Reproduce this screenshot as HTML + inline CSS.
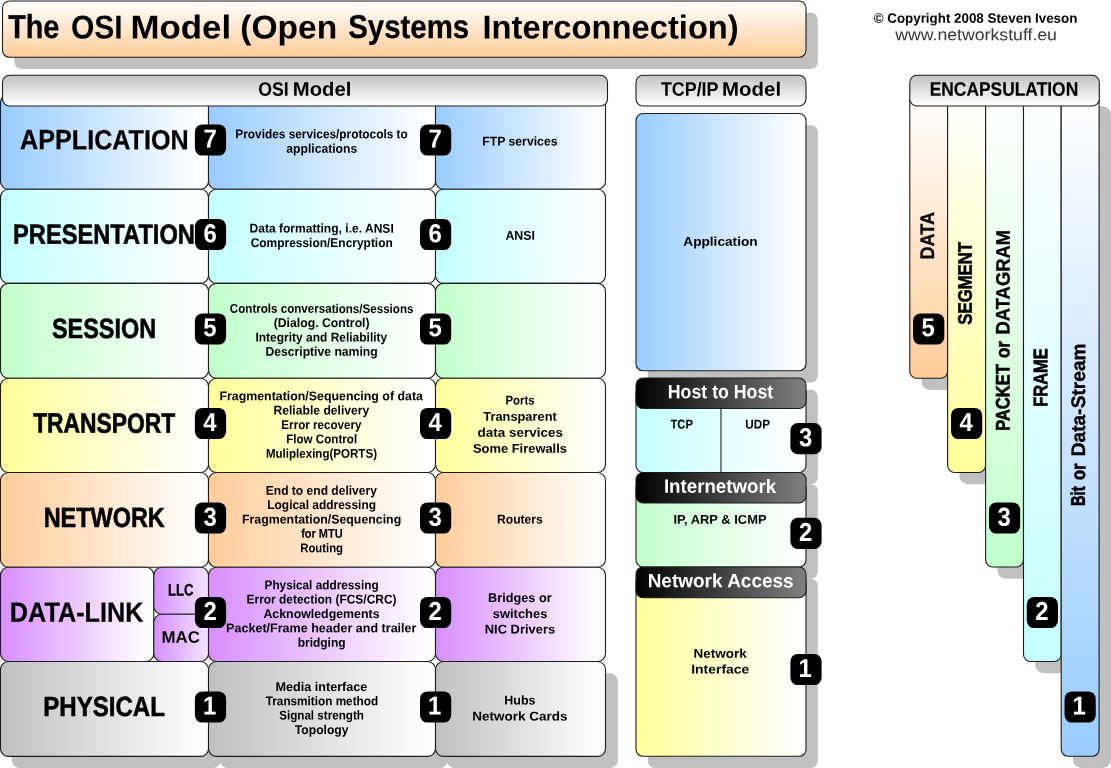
<!DOCTYPE html>
<html lang="en"><head><meta charset="utf-8"><title>The OSI Model (Open Systems Interconnection)</title>
<style>
html,body{margin:0;padding:0;background:#fff}
body{width:1111px;height:768px;overflow:hidden;position:relative;font-family:"Liberation Sans",Arial,sans-serif}
#page{position:absolute;left:0;top:0;width:1111px;height:768px;overflow:hidden;background:#fff;will-change:transform}
.t{position:absolute;left:0;top:0;white-space:pre;transform-origin:0 0;font-weight:700;color:#000;display:block}
</style></head><body><div id="page">
<svg width="1111" height="768" viewBox="0 0 1111 768" style="position:absolute;left:0;top:0">
<defs>
<linearGradient id="g0" x1="0" y1="0" x2="0" y2="1"><stop offset="0%" stop-color="#ffffff"/><stop offset="100%" stop-color="#ffcc99"/></linearGradient>
<linearGradient id="g1" x1="0" y1="0" x2="1" y2="0"><stop offset="0%" stop-color="#99ccff"/><stop offset="97%" stop-color="#ffffff"/></linearGradient>
<linearGradient id="g2" x1="0" y1="0" x2="1" y2="0"><stop offset="0%" stop-color="#c4ffff"/><stop offset="97%" stop-color="#ffffff"/></linearGradient>
<linearGradient id="g3" x1="0" y1="0" x2="1" y2="0"><stop offset="0%" stop-color="#c2ffcc"/><stop offset="97%" stop-color="#ffffff"/></linearGradient>
<linearGradient id="g4" x1="0" y1="0" x2="1" y2="0"><stop offset="0%" stop-color="#ffff99"/><stop offset="97%" stop-color="#ffffff"/></linearGradient>
<linearGradient id="g5" x1="0" y1="0" x2="1" y2="0"><stop offset="0%" stop-color="#ffcc99"/><stop offset="97%" stop-color="#ffffff"/></linearGradient>
<linearGradient id="g6" x1="0" y1="0" x2="1" y2="0"><stop offset="0%" stop-color="#d88eff"/><stop offset="97%" stop-color="#ffffff"/></linearGradient>
<linearGradient id="g7" x1="0" y1="0" x2="1" y2="0"><stop offset="0%" stop-color="#d88eff"/><stop offset="100%" stop-color="#f3e4ff"/></linearGradient>
<linearGradient id="g8" x1="0" y1="0" x2="1" y2="0"><stop offset="0%" stop-color="#c0c0c0"/><stop offset="97%" stop-color="#ffffff"/></linearGradient>
<linearGradient id="g9" x1="0" y1="0" x2="0" y2="1"><stop offset="0%" stop-color="#c2c2c2"/><stop offset="96%" stop-color="#ffffff"/></linearGradient>
<linearGradient id="g10" x1="0" y1="0" x2="1" y2="0"><stop offset="0%" stop-color="#000000"/><stop offset="100%" stop-color="#808080"/></linearGradient>
<linearGradient id="g11" x1="0" y1="0" x2="0" y2="1"><stop offset="0%" stop-color="#ffffff"/><stop offset="100%" stop-color="#ffcc99"/></linearGradient>
<linearGradient id="g12" x1="0" y1="0" x2="0" y2="1"><stop offset="0%" stop-color="#ffffff"/><stop offset="100%" stop-color="#ffff99"/></linearGradient>
<linearGradient id="g13" x1="0" y1="0" x2="0" y2="1"><stop offset="0%" stop-color="#ffffff"/><stop offset="100%" stop-color="#c2ffcc"/></linearGradient>
<linearGradient id="g14" x1="0" y1="0" x2="0" y2="1"><stop offset="0%" stop-color="#ffffff"/><stop offset="100%" stop-color="#c4ffff"/></linearGradient>
<linearGradient id="g15" x1="0" y1="0" x2="0" y2="1"><stop offset="0%" stop-color="#ffffff"/><stop offset="100%" stop-color="#99ccff"/></linearGradient>
</defs>
<rect x="14.3" y="12.7" width="803.5" height="56.3" rx="7" fill="#c0c0c0"/>
<rect x="11.8" y="673.2" width="209" height="94.9" rx="8" fill="#c0c0c0"/>
<rect x="219.8" y="673.2" width="228" height="94.9" rx="8" fill="#c0c0c0"/>
<rect x="446.8" y="673.2" width="171" height="94.9" rx="8" fill="#c0c0c0"/>
<rect x="647.8" y="125.2" width="170" height="257.3" rx="7" fill="#c0c0c0"/>
<rect x="647.8" y="389.7" width="170" height="94.5" rx="7" fill="#c0c0c0"/>
<rect x="647.8" y="484.2" width="170" height="94.5" rx="7" fill="#c0c0c0"/>
<rect x="647.8" y="578.7" width="170" height="189.3" rx="7" fill="#c0c0c0"/>
<rect x="921.6" y="106.2" width="37.8" height="283.7" rx="8.5" fill="#c0c0c0"/>
<rect x="959.4" y="106.2" width="38" height="378" rx="8.5" fill="#c0c0c0"/>
<rect x="997.4" y="106.2" width="37.9" height="472.5" rx="8.5" fill="#c0c0c0"/>
<rect x="1035.3" y="106.2" width="37.7" height="567" rx="8.5" fill="#c0c0c0"/>
<rect x="1073" y="106.2" width="37.9" height="661.8" rx="8.5" fill="#c0c0c0"/>
<rect x="2.5" y="1" width="803.5" height="56.3" rx="7" fill="url(#g0)" stroke="#1c1c1c" stroke-width="1.1"/>
<rect x="0.5" y="94.65" width="208" height="94.55" rx="8" fill="url(#g1)" stroke="#1c1c1c" stroke-width="1.1"/>
<rect x="208.5" y="94.65" width="227" height="94.55" rx="8" fill="url(#g1)" stroke="#1c1c1c" stroke-width="1.1"/>
<rect x="435.5" y="94.65" width="170" height="94.55" rx="8" fill="url(#g1)" stroke="#1c1c1c" stroke-width="1.1"/>
<rect x="0.5" y="189.2" width="208" height="94.2" rx="8" fill="url(#g2)" stroke="#1c1c1c" stroke-width="1.1"/>
<rect x="208.5" y="189.2" width="227" height="94.2" rx="8" fill="url(#g2)" stroke="#1c1c1c" stroke-width="1.1"/>
<rect x="435.5" y="189.2" width="170" height="94.2" rx="8" fill="url(#g2)" stroke="#1c1c1c" stroke-width="1.1"/>
<rect x="0.5" y="283.4" width="208" height="94.8" rx="8" fill="url(#g3)" stroke="#1c1c1c" stroke-width="1.1"/>
<rect x="208.5" y="283.4" width="227" height="94.8" rx="8" fill="url(#g3)" stroke="#1c1c1c" stroke-width="1.1"/>
<rect x="435.5" y="283.4" width="170" height="94.8" rx="8" fill="url(#g3)" stroke="#1c1c1c" stroke-width="1.1"/>
<rect x="0.5" y="378.2" width="208" height="94.3" rx="8" fill="url(#g4)" stroke="#1c1c1c" stroke-width="1.1"/>
<rect x="208.5" y="378.2" width="227" height="94.3" rx="8" fill="url(#g4)" stroke="#1c1c1c" stroke-width="1.1"/>
<rect x="435.5" y="378.2" width="170" height="94.3" rx="8" fill="url(#g4)" stroke="#1c1c1c" stroke-width="1.1"/>
<rect x="0.5" y="472.5" width="208" height="94.7" rx="8" fill="url(#g5)" stroke="#1c1c1c" stroke-width="1.1"/>
<rect x="208.5" y="472.5" width="227" height="94.7" rx="8" fill="url(#g5)" stroke="#1c1c1c" stroke-width="1.1"/>
<rect x="435.5" y="472.5" width="170" height="94.7" rx="8" fill="url(#g5)" stroke="#1c1c1c" stroke-width="1.1"/>
<rect x="0.5" y="567.2" width="153.3" height="94.3" rx="8" fill="url(#g6)" stroke="#1c1c1c" stroke-width="1.1"/>
<rect x="153.8" y="567.2" width="54.7" height="47.1" rx="8" fill="url(#g7)" stroke="#1c1c1c" stroke-width="1.1"/>
<rect x="153.8" y="614.3" width="54.7" height="47.2" rx="8" fill="url(#g7)" stroke="#1c1c1c" stroke-width="1.1"/>
<rect x="208.5" y="567.2" width="227" height="94.3" rx="8" fill="url(#g6)" stroke="#1c1c1c" stroke-width="1.1"/>
<rect x="435.5" y="567.2" width="170" height="94.3" rx="8" fill="url(#g6)" stroke="#1c1c1c" stroke-width="1.1"/>
<rect x="0.5" y="661.5" width="208" height="94.9" rx="8" fill="url(#g8)" stroke="#1c1c1c" stroke-width="1.1"/>
<rect x="208.5" y="661.5" width="227" height="94.9" rx="8" fill="url(#g8)" stroke="#1c1c1c" stroke-width="1.1"/>
<rect x="435.5" y="661.5" width="170" height="94.9" rx="8" fill="url(#g8)" stroke="#1c1c1c" stroke-width="1.1"/>
<rect x="2.5" y="75.3" width="605" height="30.7" rx="7" fill="url(#g9)" stroke="#1c1c1c" stroke-width="1.1"/>
<rect x="636" y="75.3" width="170" height="30.7" rx="7" fill="url(#g9)" stroke="#1c1c1c" stroke-width="1.1"/>
<rect x="636" y="113.5" width="170" height="257.3" rx="7" fill="url(#g1)" stroke="#1c1c1c" stroke-width="1.1"/>
<rect x="636" y="385" width="170" height="87.5" rx="7" fill="url(#g2)" stroke="#1c1c1c" stroke-width="1.1"/>
<rect x="636" y="480" width="170" height="87" rx="7" fill="url(#g3)" stroke="#1c1c1c" stroke-width="1.1"/>
<rect x="636" y="575" width="170" height="181.3" rx="7" fill="url(#g4)" stroke="#1c1c1c" stroke-width="1.1"/>
<rect x="636" y="378" width="170" height="30.5" rx="7" fill="url(#g10)" stroke="#1c1c1c" stroke-width="1.1"/>
<rect x="636" y="472.5" width="170" height="30.5" rx="7" fill="url(#g10)" stroke="#1c1c1c" stroke-width="1.1"/>
<rect x="636" y="567" width="170" height="30.7" rx="7" fill="url(#g10)" stroke="#1c1c1c" stroke-width="1.1"/>
<rect x="909.8" y="94.5" width="37.8" height="283.7" rx="7" fill="url(#g11)" stroke="#1c1c1c" stroke-width="1.1"/>
<rect x="947.6" y="94.5" width="38" height="378" rx="7" fill="url(#g12)" stroke="#1c1c1c" stroke-width="1.1"/>
<rect x="985.6" y="94.5" width="37.9" height="472.5" rx="7" fill="url(#g13)" stroke="#1c1c1c" stroke-width="1.1"/>
<rect x="1023.5" y="94.5" width="37.7" height="567" rx="7" fill="url(#g14)" stroke="#1c1c1c" stroke-width="1.1"/>
<rect x="1061.2" y="94.5" width="37.9" height="661.8" rx="7" fill="url(#g15)" stroke="#1c1c1c" stroke-width="1.1"/>
<rect x="909.8" y="75.3" width="189.5" height="30.7" rx="7" fill="url(#g9)" stroke="#1c1c1c" stroke-width="1.1"/>
<line x1="721" y1="408.5" x2="721" y2="472.5" stroke="#1c1c1c" stroke-width="1.1"/>
<rect x="194.9" y="124.4" width="31.2" height="31.2" rx="7.5" fill="#000"/>
<rect x="420" y="124.4" width="31.2" height="31.2" rx="7.5" fill="#000"/>
<rect x="194.9" y="218.9" width="31.2" height="31.2" rx="7.5" fill="#000"/>
<rect x="420" y="218.9" width="31.2" height="31.2" rx="7.5" fill="#000"/>
<rect x="194.9" y="313.4" width="31.2" height="31.2" rx="7.5" fill="#000"/>
<rect x="420" y="313.4" width="31.2" height="31.2" rx="7.5" fill="#000"/>
<rect x="194.9" y="407.9" width="31.2" height="31.2" rx="7.5" fill="#000"/>
<rect x="420" y="407.9" width="31.2" height="31.2" rx="7.5" fill="#000"/>
<rect x="194.9" y="502.4" width="31.2" height="31.2" rx="7.5" fill="#000"/>
<rect x="420" y="502.4" width="31.2" height="31.2" rx="7.5" fill="#000"/>
<rect x="194.9" y="596.9" width="31.2" height="31.2" rx="7.5" fill="#000"/>
<rect x="420" y="596.9" width="31.2" height="31.2" rx="7.5" fill="#000"/>
<rect x="194.9" y="691.4" width="31.2" height="31.2" rx="7.5" fill="#000"/>
<rect x="420" y="691.4" width="31.2" height="31.2" rx="7.5" fill="#000"/>
<rect x="790.4" y="423.1" width="31.2" height="31.2" rx="7.5" fill="#000"/>
<rect x="790.4" y="517.7" width="31.2" height="31.2" rx="7.5" fill="#000"/>
<rect x="790.4" y="653.9" width="31.2" height="31.2" rx="7.5" fill="#000"/>
<rect x="913.1" y="313.4" width="31.2" height="31.2" rx="7.5" fill="#000"/>
<rect x="951" y="407.9" width="31.2" height="31.2" rx="7.5" fill="#000"/>
<rect x="988.95" y="502.4" width="31.2" height="31.2" rx="7.5" fill="#000"/>
<rect x="1026.75" y="596.9" width="31.2" height="31.2" rx="7.5" fill="#000"/>
<rect x="1064.55" y="691.4" width="31.2" height="31.2" rx="7.5" fill="#000"/>
</svg>
<div class="g"><span class="t" style="font-size:33.14px;line-height:33.14px;-webkit-text-stroke:0.33px #000;transform:translate(8.15px,10px) matrix(0.8699,0.0005,0,1,0,0)">The</span> <span class="t" style="font-size:33.14px;line-height:33.14px;transform:translate(70.92px,10.5px) matrix(0.9069,0.0005,0,1,0,0)">OSI</span> <span class="t" style="font-size:33.14px;line-height:33.14px;transform:translate(130.4px,10.5px) matrix(1.0520,0.0005,0,1,0,0)">Model</span> <span class="t" style="font-size:33.14px;line-height:33.14px;transform:translate(240.3px,10.5px) matrix(1.0135,0.0005,0,1,0,0)">(Open</span> <span class="t" style="font-size:33.14px;line-height:33.14px;-webkit-text-stroke:0.28px #000;transform:translate(348.26px,10px) matrix(0.8873,0.0005,0,1,0,0)">Systems</span> <span class="t" style="font-size:33.14px;line-height:33.14px;transform:translate(482.47px,10.5px) matrix(0.9876,0.0005,0,1,0,0)">Interconnection)</span></div>
<div class="t" style="font-size:13.52px;line-height:13.52px;transform:translate(873.67px,11.73px) matrix(0.9889,0.0005,0,1,0,0)">© Copyright 2008 Steven Iveson</div>
<div class="t" style="font-size:16.57px;line-height:16.57px;font-weight:400;color:#383838;transform:translate(895.22px,27.24px) matrix(1.0669,0.0005,0,1,0,0)">www.networkstuff.eu</div>
<div class="g"><span class="t" style="font-size:19.48px;line-height:19.48px;transform:translate(258.16px,79.7px) matrix(0.9099,0.0005,0,1,0,0)">OSI</span> <span class="t" style="font-size:19.48px;line-height:19.48px;transform:translate(292.8px,79.7px) matrix(1.0404,0.0005,0,1,0,0)">Model</span></div>
<div class="g"><span class="t" style="font-size:19.48px;line-height:19.48px;transform:translate(660.89px,79.7px) matrix(0.9185,0.0005,0,1,0,0)">TCP/IP</span> <span class="t" style="font-size:19.48px;line-height:19.48px;transform:translate(722.04px,79.7px) matrix(1.0493,0.0005,0,1,0,0)">Model</span></div>
<div class="t" style="font-size:19.48px;line-height:19.48px;-webkit-text-stroke:0.16px #000;transform:translate(929.63px,79.7px) matrix(0.8940,0.0005,0,1,0,0)">ENCAPSULATION</div>
<div class="t" style="font-size:27.76px;line-height:27.76px;-webkit-text-stroke:0.25px #000;transform:translate(20.1px,126.1px) matrix(0.9061,0.0005,0,1,0,0)">APPLICATION</div>
<div class="t" style="font-size:27.76px;line-height:27.76px;-webkit-text-stroke:0.57px #000;transform:translate(13.04px,220.65px) matrix(0.8528,0.0005,0,1,0,0)">PRESENTATION</div>
<div class="t" style="font-size:27.76px;line-height:27.76px;-webkit-text-stroke:0.59px #000;transform:translate(51.93px,314.91px) matrix(0.8445,0.0005,0,1,0,0)">SESSION</div>
<div class="t" style="font-size:27.76px;line-height:27.76px;-webkit-text-stroke:0.65px #000;transform:translate(33.14px,409.6px) matrix(0.8232,0.0005,0,1,0,0)">TRANSPORT</div>
<div class="t" style="font-size:27.76px;line-height:27.76px;-webkit-text-stroke:0.59px #000;transform:translate(43.64px,503.92px) matrix(0.8452,0.0005,0,1,0,0)">NETWORK</div>
<div class="t" style="font-size:27.76px;line-height:27.76px;-webkit-text-stroke:0.25px #000;transform:translate(9.85px,598.76px) matrix(0.9092,0.0005,0,1,0,0)">DATA-LINK</div>
<div class="t" style="font-size:27.76px;line-height:27.76px;-webkit-text-stroke:0.54px #000;transform:translate(43.24px,692.92px) matrix(0.8673,0.0005,0,1,0,0)">PHYSICAL</div>
<div class="t" style="font-size:16.57px;line-height:16.57px;-webkit-text-stroke:0.29px #000;transform:translate(167.94px,582.39px) matrix(0.7962,0.0005,0,1,0,0)">LLC</div>
<div class="t" style="font-size:16.57px;line-height:16.57px;transform:translate(161.44px,629.8px) matrix(1.0170,0.0005,0,1,0,0)">MAC</div>
<div class="t" style="font-size:12.65px;line-height:12.65px;transform:translate(235.32px,128.13px) matrix(0.9369,0.0005,0,1,0,0)">Provides services/protocols to</div>
<div class="t" style="font-size:12.65px;line-height:12.65px;transform:translate(286.32px,142.68px) matrix(0.9604,0.0005,0,1,0,0)">applications</div>
<div class="t" style="font-size:12.65px;line-height:12.65px;transform:translate(249.47px,222.56px) matrix(0.9540,0.0005,0,1,0,0)">Data formatting, i.e. ANSI</div>
<div class="t" style="font-size:12.65px;line-height:12.65px;transform:translate(250.64px,237.02px) matrix(0.9457,0.0005,0,1,0,0)">Compression/Encryption</div>
<div class="t" style="font-size:12.65px;line-height:12.65px;transform:translate(229.87px,302.82px) matrix(0.9169,0.0005,0,1,0,0)">Controls conversations/Sessions</div>
<div class="t" style="font-size:12.65px;line-height:12.65px;transform:translate(273.68px,317px) matrix(0.9688,0.0005,0,1,0,0)">(Dialog. Control)</div>
<div class="t" style="font-size:12.65px;line-height:12.65px;transform:translate(255.48px,331.53px) matrix(0.9470,0.0005,0,1,0,0)">Integrity and Reliability</div>
<div class="t" style="font-size:12.65px;line-height:12.65px;transform:translate(265.43px,345.8px) matrix(0.9625,0.0005,0,1,0,0)">Descriptive naming</div>
<div class="t" style="font-size:12.65px;line-height:12.65px;transform:translate(219.38px,390.13px) matrix(0.9789,0.0005,0,1,0,0)">Fragmentation/Sequencing of data</div>
<div class="t" style="font-size:12.65px;line-height:12.65px;transform:translate(273.45px,404.42px) matrix(0.9610,0.0005,0,1,0,0)">Reliable delivery</div>
<div class="t" style="font-size:12.65px;line-height:12.65px;transform:translate(281.37px,419px) matrix(0.9195,0.0005,0,1,0,0)">Error recovery</div>
<div class="t" style="font-size:12.65px;line-height:12.65px;transform:translate(286.13px,433.13px) matrix(0.9190,0.0005,0,1,0,0)">Flow Control</div>
<div class="t" style="font-size:12.65px;line-height:12.65px;transform:translate(265.92px,447.67px) matrix(0.9142,0.0005,0,1,0,0)">Muliplexing(PORTS)</div>
<div class="t" style="font-size:12.65px;line-height:12.65px;transform:translate(265.74px,484.68px) matrix(0.9532,0.0005,0,1,0,0)">End to end delivery</div>
<div class="t" style="font-size:12.65px;line-height:12.65px;transform:translate(267.28px,498.88px) matrix(0.9435,0.0005,0,1,0,0)">Logical addressing</div>
<div class="t" style="font-size:12.65px;line-height:12.65px;transform:translate(241.95px,513.39px) matrix(0.9774,0.0005,0,1,0,0)">Fragmentation/Sequencing</div>
<div class="t" style="font-size:12.65px;line-height:12.65px;-webkit-text-stroke:0.13px #000;transform:translate(301.22px,527.67px) matrix(0.8659,0.0005,0,1,0,0)">for MTU</div>
<div class="t" style="font-size:12.65px;line-height:12.65px;transform:translate(300.23px,542.14px) matrix(0.8963,0.0005,0,1,0,0)">Routing</div>
<div class="t" style="font-size:12.65px;line-height:12.65px;transform:translate(264.53px,579.13px) matrix(0.9332,0.0005,0,1,0,0)">Physical addressing</div>
<div class="t" style="font-size:12.65px;line-height:12.65px;transform:translate(246.52px,593.42px) matrix(0.9449,0.0005,0,1,0,0)">Error detection (FCS/CRC)</div>
<div class="t" style="font-size:12.65px;line-height:12.65px;transform:translate(263.41px,607.93px) matrix(0.9780,0.0005,0,1,0,0)">Acknowledgements</div>
<div class="t" style="font-size:12.65px;line-height:12.65px;transform:translate(226.11px,622.13px) matrix(0.9923,0.0005,0,1,0,0)">Packet/Frame header and trailer</div>
<div class="t" style="font-size:12.65px;line-height:12.65px;transform:translate(297.66px,636.67px) matrix(0.9474,0.0005,0,1,0,0)">bridging</div>
<div class="t" style="font-size:12.65px;line-height:12.65px;transform:translate(275.57px,681.04px) matrix(0.9967,0.0005,0,1,0,0)">Media interface</div>
<div class="t" style="font-size:12.65px;line-height:12.65px;transform:translate(265.73px,695.25px) matrix(0.9302,0.0005,0,1,0,0)">Transmition method</div>
<div class="t" style="font-size:12.65px;line-height:12.65px;transform:translate(279.14px,709.57px) matrix(0.9215,0.0005,0,1,0,0)">Signal strength</div>
<div class="t" style="font-size:12.65px;line-height:12.65px;transform:translate(294.82px,724.02px) matrix(0.9591,0.0005,0,1,0,0)">Topology</div>
<div class="t" style="font-size:12.65px;line-height:12.65px;transform:translate(482.18px,135.4px) matrix(0.9690,0.0005,0,1,0,0)">FTP services</div>
<div class="t" style="font-size:12.65px;line-height:12.65px;transform:translate(505.44px,229.68px) matrix(0.9772,0.0005,0,1,0,0)">ANSI</div>
<div class="t" style="font-size:12.65px;line-height:12.65px;transform:translate(505.42px,394.47px) matrix(0.8999,0.0005,0,1,0,0)">Ports</div>
<div class="t" style="font-size:12.65px;line-height:12.65px;transform:translate(483.26px,410.68px) matrix(1.0160,0.0005,0,1,0,0)">Transparent</div>
<div class="t" style="font-size:12.65px;line-height:12.65px;transform:translate(477.42px,426.68px) matrix(1.0668,0.0005,0,1,0,0)">data services</div>
<div class="t" style="font-size:12.65px;line-height:12.65px;transform:translate(472.88px,442.69px) matrix(1.0226,0.0005,0,1,0,0)">Some Firewalls</div>
<div class="t" style="font-size:12.65px;line-height:12.65px;transform:translate(497.01px,513.42px) matrix(0.9594,0.0005,0,1,0,0)">Routers</div>
<div class="t" style="font-size:12.65px;line-height:12.65px;transform:translate(488.1px,591.91px) matrix(1.0042,0.0005,0,1,0,0)">Bridges or</div>
<div class="t" style="font-size:12.65px;line-height:12.65px;transform:translate(492.8px,607.91px) matrix(1.0210,0.0005,0,1,0,0)">switches</div>
<div class="t" style="font-size:12.65px;line-height:12.65px;transform:translate(484.79px,623.42px) matrix(1.0215,0.0005,0,1,0,0)">NIC Drivers</div>
<div class="t" style="font-size:12.65px;line-height:12.65px;transform:translate(504.35px,694.4px) matrix(0.9858,0.0005,0,1,0,0)">Hubs</div>
<div class="t" style="font-size:12.65px;line-height:12.65px;transform:translate(472.34px,710.4px) matrix(1.0681,0.0005,0,1,0,0)">Network Cards</div>
<div class="t" style="font-size:12.65px;line-height:12.65px;transform:translate(683.3px,235.69px) matrix(1.0798,0.0005,0,1,0,0)">Application</div>
<div class="t" style="font-size:19.33px;line-height:19.33px;color:#fff;transform:translate(667.79px,382.3px) matrix(0.9178,0.0005,0,1,0,0)">Host to Host</div>
<div class="t" style="font-size:19.33px;line-height:19.33px;color:#fff;transform:translate(663.92px,476.83px) matrix(0.9676,0.0005,0,1,0,0)">Internetwork</div>
<div class="t" style="font-size:19.33px;line-height:19.33px;color:#fff;transform:translate(647.65px,571.31px) matrix(0.9825,0.0005,0,1,0,0)">Network Access</div>
<div class="t" style="font-size:12.65px;line-height:12.65px;-webkit-text-stroke:0.11px #000;transform:translate(670.47px,418.5px) matrix(0.8855,0.0005,0,1,0,0)">TCP</div>
<div class="t" style="font-size:12.65px;line-height:12.65px;transform:translate(745.37px,418.42px) matrix(0.9257,0.0005,0,1,0,0)">UDP</div>
<div class="t" style="font-size:12.65px;line-height:12.65px;transform:translate(673.49px,513.68px) matrix(1.0215,0.0005,0,1,0,0)">IP, ARP &amp; ICMP</div>
<div class="t" style="font-size:12.65px;line-height:12.65px;transform:translate(693.58px,647.68px) matrix(1.0636,0.0005,0,1,0,0)">Network</div>
<div class="t" style="font-size:12.65px;line-height:12.65px;transform:translate(691.18px,663.4px) matrix(1.1025,0.0005,0,1,0,0)">Interface</div>
<div class="t" style="font-size:19.62px;line-height:19.62px;-webkit-text-stroke:0.35px #000;transform:translate(918.08px,259.49px) rotate(-90deg) matrix(0.9234,0.0005,0,1,0,0)">DATA</div>
<div class="t" style="font-size:19.62px;line-height:19.62px;-webkit-text-stroke:0.58px #000;transform:translate(955.79px,324.64px) rotate(-90deg) matrix(0.8516,0.0005,0,1,0,0)">SEGMENT</div>
<div class="g"><span class="t" style="font-size:19.62px;line-height:19.62px;-webkit-text-stroke:0.60px #000;transform:translate(993.59px,430.82px) rotate(-90deg) matrix(0.8413,0.0005,0,1,0,0)">PACKET</span> <span class="t" style="font-size:19.62px;line-height:19.62px;-webkit-text-stroke:0.56px #000;transform:translate(993.54px,358.02px) rotate(-90deg) matrix(0.8640,0.0005,0,1,0,0)">or</span> <span class="t" style="font-size:19.62px;line-height:19.62px;-webkit-text-stroke:0.35px #000;transform:translate(993.61px,334.51px) rotate(-90deg) matrix(0.9393,0.0005,0,1,0,0)">DATAGRAM</span></div>
<div class="t" style="font-size:19.62px;line-height:19.62px;-webkit-text-stroke:0.60px #000;transform:translate(1031.15px,406.81px) rotate(-90deg) matrix(0.8419,0.0005,0,1,0,0)">FRAME</div>
<div class="g"><span class="t" style="font-size:19.62px;line-height:19.62px;-webkit-text-stroke:0.81px #000;transform:translate(1068.84px,505.93px) rotate(-90deg) matrix(0.7429,0.0005,0,1,0,0)">Bit</span> <span class="t" style="font-size:19.62px;line-height:19.62px;-webkit-text-stroke:0.60px #000;transform:translate(1069.12px,479.99px) rotate(-90deg) matrix(0.8391,0.0005,0,1,0,0)">or</span> <span class="t" style="font-size:19.62px;line-height:19.62px;-webkit-text-stroke:0.35px #000;transform:translate(1069.08px,456.3px) rotate(-90deg) matrix(0.9778,0.0005,0,1,0,0)">Data-Stream</span></div>
<div class="t" style="font-size:26px;line-height:26px;color:#fff;transform:translate(203.46px,125.46px) matrix(0.9200,0.0005,0,1,0,0)">7</div>
<div class="t" style="font-size:26px;line-height:26px;color:#fff;transform:translate(428.48px,125.46px) matrix(0.9200,0.0005,0,1,0,0)">7</div>
<div class="t" style="font-size:26px;line-height:26px;color:#fff;transform:translate(203.45px,220.19px) matrix(0.9200,0.0005,0,1,0,0)">6</div>
<div class="t" style="font-size:26px;line-height:26px;color:#fff;transform:translate(428.46px,220.19px) matrix(0.9200,0.0005,0,1,0,0)">6</div>
<div class="t" style="font-size:26px;line-height:26px;color:#fff;transform:translate(203.2px,314.28px) matrix(0.9200,0.0005,0,1,0,0)">5</div>
<div class="t" style="font-size:26px;line-height:26px;color:#fff;transform:translate(428.44px,314.29px) matrix(0.9200,0.0005,0,1,0,0)">5</div>
<div class="t" style="font-size:26px;line-height:26px;color:#fff;transform:translate(203.2px,408.93px) matrix(0.9200,0.0005,0,1,0,0)">4</div>
<div class="t" style="font-size:26px;line-height:26px;color:#fff;transform:translate(428.46px,408.93px) matrix(0.9200,0.0005,0,1,0,0)">4</div>
<div class="t" style="font-size:26px;line-height:26px;color:#fff;transform:translate(203.51px,503.69px) matrix(0.9200,0.0005,0,1,0,0)">3</div>
<div class="t" style="font-size:26px;line-height:26px;color:#fff;transform:translate(428.52px,503.68px) matrix(0.9200,0.0005,0,1,0,0)">3</div>
<div class="t" style="font-size:26px;line-height:26px;color:#fff;transform:translate(203.43px,598.11px) matrix(0.9200,0.0005,0,1,0,0)">2</div>
<div class="t" style="font-size:26px;line-height:26px;color:#fff;transform:translate(428.42px,598.12px) matrix(0.9200,0.0005,0,1,0,0)">2</div>
<div class="t" style="font-size:26px;line-height:26px;color:#fff;transform:translate(202.97px,692.46px) matrix(0.9200,0.0005,0,1,0,0)">1</div>
<div class="t" style="font-size:26px;line-height:26px;color:#fff;transform:translate(427.98px,692.46px) matrix(0.9200,0.0005,0,1,0,0)">1</div>
<div class="t" style="font-size:26px;line-height:26px;color:#fff;transform:translate(798.95px,424.18px) matrix(0.9200,0.0005,0,1,0,0)">3</div>
<div class="t" style="font-size:26px;line-height:26px;color:#fff;transform:translate(798.92px,518.88px) matrix(0.9200,0.0005,0,1,0,0)">2</div>
<div class="t" style="font-size:26px;line-height:26px;color:#fff;transform:translate(798.48px,654.93px) matrix(0.9200,0.0005,0,1,0,0)">1</div>
<div class="t" style="font-size:26px;line-height:26px;color:#fff;transform:translate(921.5px,314.31px) matrix(0.9200,0.0005,0,1,0,0)">5</div>
<div class="t" style="font-size:26px;line-height:26px;color:#fff;transform:translate(959.46px,408.93px) matrix(0.9200,0.0005,0,1,0,0)">4</div>
<div class="t" style="font-size:26px;line-height:26px;color:#fff;transform:translate(997.52px,503.68px) matrix(0.9200,0.0005,0,1,0,0)">3</div>
<div class="t" style="font-size:26px;line-height:26px;color:#fff;transform:translate(1035.17px,598.12px) matrix(0.9200,0.0005,0,1,0,0)">2</div>
<div class="t" style="font-size:26px;line-height:26px;color:#fff;transform:translate(1072.45px,692.46px) matrix(0.9200,0.0005,0,1,0,0)">1</div>
</div></body></html>
